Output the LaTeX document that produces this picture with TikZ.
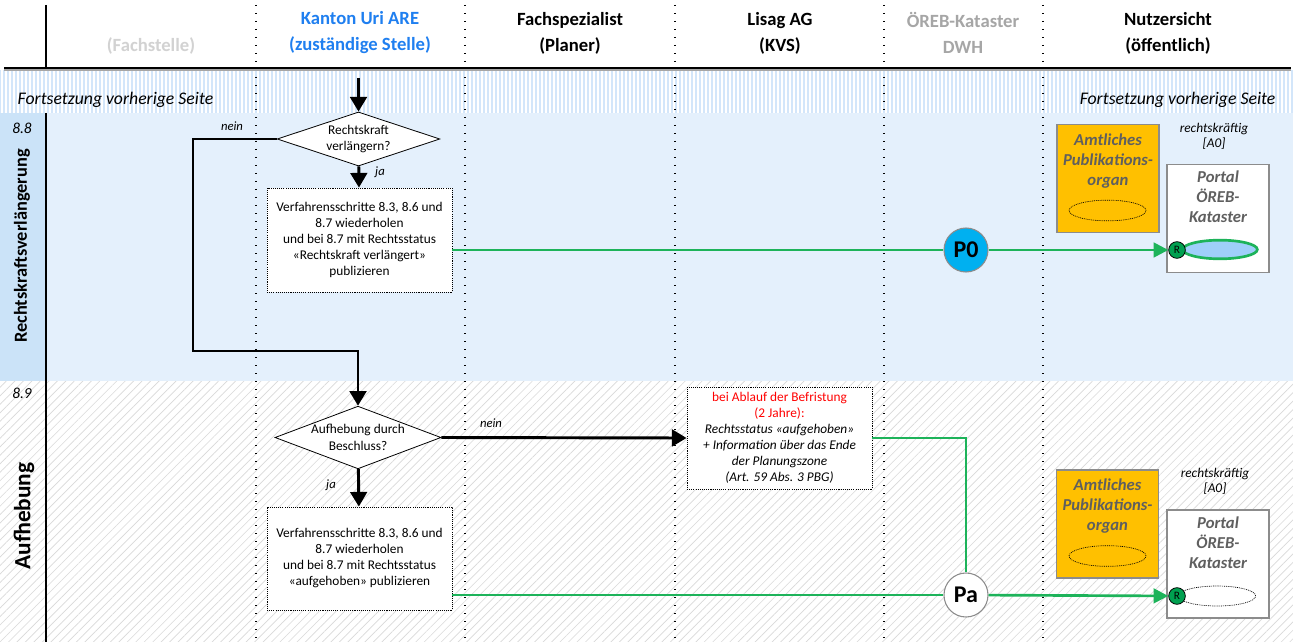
\documentclass[tikz,border=0pt]{standalone}
\usepackage{fontspec}
\setmainfont{Carlito}
\usetikzlibrary{positioning,arrows.meta,shapes.geometric,patterns.meta}
\definecolor{laneblue}{HTML}{E4F0FC}
\definecolor{labelblue}{HTML}{CBE3F8}
\definecolor{stripeblue}{HTML}{D3E6FA}
\definecolor{areblue}{HTML}{1F7FF0}
\definecolor{pubgreen}{HTML}{1DB35A}
\definecolor{oregold}{HTML}{FFC000}
\definecolor{cyanpub}{HTML}{00B0F0}
\definecolor{ellblue}{HTML}{9FCFFA}
\definecolor{markgreen}{HTML}{00A050}
\definecolor{boxgray}{HTML}{8C8C8C}
\definecolor{txtgray}{HTML}{5F5F5F}

\begin{document}
\begin{tikzpicture}[
            x=0.75pt, y=-0.75pt,
            head/.style={font=\fontsize{14}{19.5}\selectfont\bfseries, align=center},
            cont/.style={font=\fontsize{13.3}{15}\selectfont\itshape},
            note/.style={font=\fontsize{9.5}{11}\selectfont\itshape},
            stepbox/.style={draw, dash pattern=on 0.8pt off 0.8pt, line width=0.6pt, fill=white, align=center,
                font=\fontsize{10}{12}\selectfont, minimum width=138.75pt, minimum height=77.25pt, inner sep=2pt},
            decision/.style={draw, diamond, fill=white, line width=0.6pt, inner sep=0pt},
            asklabel/.style={align=center, font=\fontsize{10}{12.5}\selectfont},
            flow/.style={line width=2.2pt, -{Triangle[width=12.5pt,length=11pt]}},
            publine/.style={draw=pubgreen, line width=2pt},
            pubarrow/.style={publine, -{Triangle[width=11pt,length=11pt]}},
            pubcircle/.style={circle, draw=boxgray, line width=0.8pt, minimum size=33pt, inner sep=0pt,
                font=\fontsize{18}{18}\selectfont\bfseries},
            organ/.style={draw=boxgray, line width=0.8pt, fill=oregold, minimum width=76.5pt, minimum height=81pt},
            portal/.style={draw=boxgray, line width=0.8pt, fill=white, minimum width=76.5pt, minimum height=81pt},
            boxtitle/.style={font=\fontsize{12.5}{15}\selectfont\bfseries\itshape, text=txtgray, align=center, inner sep=1pt},
            status/.style={align=center, font=\fontsize{10}{11.5}\selectfont\itshape},
            record/.style={ellipse, minimum width=56pt, minimum height=14pt, inner sep=0pt},
            dotell/.style={record, draw, dash pattern=on 0.7pt off 0.7pt, line width=0.5pt},
            rmark/.style={circle, draw, fill=markgreen, line width=0.6pt, minimum size=12.5pt, inner sep=0pt,
                font=\fontsize{8.5}{8.5}\selectfont},
            divider/.style={line width=0.9pt, dash pattern=on 0.8pt off 5.2pt}
        ]
        \useasboundingbox (0,0) rectangle (1293,642);
        \fill[white] (0,0) rectangle (1293,642);
        \fill[pattern={Lines[angle=90,distance=3pt,line width=0.9pt]}, pattern color=stripeblue] (0,71) rectangle (1293,113);
        \fill[laneblue] (0,113) rectangle (1293,381);
        \fill[labelblue] (0,113) rectangle (46,381);
        \fill[pattern={Lines[angle=45,distance=4.5pt,line width=0.5pt]}, pattern color=gray!30] (0,381) rectangle (1293,642);

        \foreach \x in {256,465,675,884,1043}
            \draw[divider] (\x,5) -- (\x,642);
        \draw[line width=1.1pt] (46,5) -- (46,68);
        \draw[line width=1.1pt] (46,113) -- (46,642);
        \draw[line width=1.6pt] (4,68) -- (1291,68);
        \draw[gray!70, line width=0.8pt] (4,70) -- (1291,70);

        \node[head, text=gray!35] (hfach) at (151,46) {(Fachstelle)};
        \node[head, text=areblue] (hare) at (360,33) {Kanton Uri ARE\\(zuständige Stelle)};
        \node[head] (hplan) at (570,33) {Fachspezialist\\(Planer)};
        \node[head] (hkvs) at (780,33) {Lisag AG\\(KVS)};
        \node[head, text=gray!70] (hdwh) at (963,33) {ÖREB-Kataster\\DWH};
        \node[head] (hpub) at (1168,33) {Nutzersicht\\(öffentlich)};

        \node[cont, anchor=west] (contl) at (13,100) {Fortsetzung vorherige Seite};
        \node[cont, anchor=east] (contr) at (1280,100) {Fortsetzung vorherige Seite};

        \node[font=\fontsize{11.5}{13}\selectfont\itshape] (n88) at (22,128) {8.8};
        \node[rotate=90, font=\fontsize{13.8}{15}\selectfont\bfseries] (l88) at (22,246) {Rechtskraftsverlängerung};
        \node[font=\fontsize{11.5}{13}\selectfont\itshape] (n89) at (22,393) {8.9};
        \node[rotate=90, font=\fontsize{17.5}{19}\selectfont\bfseries] (l89) at (24,516) {Aufhebung};

        \coordinate (entry) at (358.5,78);
        \node[decision, minimum width=122pt, minimum height=40.5pt,
            label={[asklabel]center:Rechtskraft\\verlängern?}] (d1) at (358.5,139) {};
        \node[stepbox, minimum height=78pt] (b1) at (359.5,240)
            {Verfahrensschritte 8.3, 8.6 und\\8.7 wiederholen\\und bei 8.7 mit Rechtsstatus\\«Rechtskraft verlängert»\\publizieren};
        \node[decision, minimum width=124.5pt, minimum height=47pt,
            label={[asklabel]center:Aufhebung durch\\Beschluss?}] (d2) at (358,437.5) {};
        \node[stepbox] (b2) at (359.5,558.5)
            {Verfahrensschritte 8.3, 8.6 und\\8.7 wiederholen\\und bei 8.7 mit Rechtsstatus\\«aufgehoben» publizieren};
        \node[stepbox, minimum height=76.5pt] (b3) at (779.5,438)
            {\textcolor{red}{bei Ablauf der Befristung}\\\textcolor{red}{(2 Jahre):}\\\textit{Rechtsstatus «aufgehoben»}\\
             \textit{+ Information über das Ende}\\\textit{der Planungszone}\\\textit{(Art. 59 Abs. 3 PBG)}};
        \coordinate (bend) at (193,351);

        \node[note] (nein1) at (232,126) {nein};
        \node[note] (ja1) at (380,172) {ja};
        \node[note] (nein2) at (491,423) {nein};
        \node[note] (ja2) at (331,485) {ja};

        \draw[flow] (entry) -- (d1);
        \draw[flow] (d1) -- (b1);
        \draw[flow] (d1.west) -| (bend) -| (d2.north);
        \draw[flow] (d2) -- (b2);
        \draw[flow] (d2.east) -- (b3.west);

        \node[organ] (organ1) at (1108,178.5) {};
        \node[boxtitle, anchor=north, below=6pt of organ1.north] (organ1t) {Amtliches\\Publikations-\\organ};
        \node[dotell, minimum width=57.75pt, minimum height=15.5pt] (organ1e) at (1107.5,210.5) {};
        \node[portal] (portal1) at (1218,218.5) {};
        \node[boxtitle, anchor=north, below=4pt of portal1.north] (portal1t) {Portal\\ÖREB-\\Kataster};
        \node[record, draw=pubgreen, line width=2pt, fill=ellblue] (rec1) at (1220,249.5) {};
        \node[rmark] (r1) at (1177,250) {R};
        \node[status] (rk1) at (1214,136) {rechtskräftig\\{[A0]}};

        \node[organ] (organ2) at (1107.5,524) {};
        \node[boxtitle, anchor=north, below=6pt of organ2.north] (organ2t) {Amtliches\\Publikations-\\organ};
        \node[dotell, minimum width=57.75pt, minimum height=15.5pt] (organ2e) at (1107.5,556) {};
        \node[portal] (portal2) at (1218,564) {};
        \node[boxtitle, anchor=north, below=4pt of portal2.north] (portal2t) {Portal\\ÖREB-\\Kataster};
        \node[dotell, minimum width=58pt, minimum height=15pt] (rec2) at (1217,596) {};
        \node[rmark] (r2) at (1177,596) {R};
        \node[status] (rk2) at (1215,481) {rechtskräftig\\{[A0]}};

        \node[pubcircle, fill=cyanpub] (p0) at (966,250) {P0};
        \node[pubcircle, fill=white] (pa) at (966,595) {Pa};

        \draw[publine] (b1.east |- p0) -- (p0);
        \draw[pubarrow] (p0) -- (r1);
        \draw[publine] (b3.east) -| (pa);
        \draw[publine] (b2.east |- pa) -- (pa);
        \draw[pubarrow] (pa) -- (r2);
    \end{tikzpicture}
\end{document}
